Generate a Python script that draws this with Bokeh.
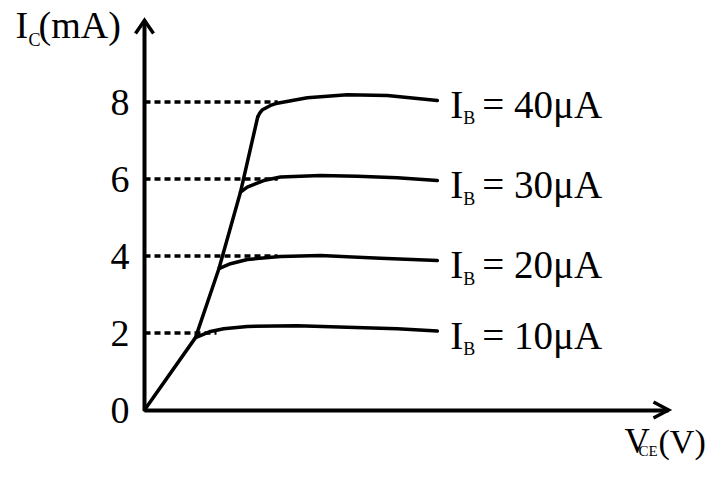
from bokeh.plotting import figure
from bokeh.models import Range1d, LinearAxis, FixedTicker
from bokeh.core.properties import value
from bokeh.embed import file_html
from bokeh.resources import INLINE

# ---------------- data ----------------
y_ticks = [0, 2, 4, 6, 8]
y_tick_labels = ["0", "2", "4", "6", "8"]

ib_labels = ["10μA", "20μA", "30μA", "40μA"]

vce_ib10 = [1.275, 1.65, 1.98, 2.57, 3.82, 5.07, 6.32, 7.32]
ic_ib10 = [1.88, 2.04, 2.11, 2.17, 2.19, 2.15, 2.11, 2.05]
vce_ib20 = [1.86, 2.15, 2.57, 3.40, 4.40, 5.90, 7.32]
ic_ib20 = [3.67, 3.80, 3.91, 3.99, 4.01, 3.94, 3.88]
vce_ib30 = [2.40, 2.57, 2.98, 3.40, 4.40, 5.32, 6.32, 7.32]
ic_ib30 = [5.66, 5.79, 5.96, 6.05, 6.09, 6.07, 6.03, 5.96]
vce_ib40 = [2.83, 2.88, 2.95, 3.15, 3.32, 4.07, 5.07, 6.07, 7.32]
ic_ib40 = [7.61, 7.71, 7.80, 7.91, 7.97, 8.11, 8.19, 8.17, 8.04]

guide_levels = [2, 4, 6, 8]
guide_ends = [1.80, 3.33, 3.33, 3.33]

x_axis_end = 13.1
y_axis_end = 10.12

# ---------------- layout ----------------
W, H = 711, 480
PXX, PXY = 40.0, 38.5          # pixels per data unit
X0PX, Y0PX = 144.0, 409.5      # origin position in pixels (from top-left)

def px2x(px):   # pixel -> data x
    return (px - X0PX) / PXX

def py2y(py):   # pixel -> data y
    return (Y0PX - py) / PXY

p = figure(width=W, height=H, output_backend="svg", toolbar_location=None,
           x_range=Range1d(-X0PX / PXX, (W - X0PX) / PXX),
           y_range=Range1d(-(H - Y0PX) / PXY, Y0PX / PXY),
           x_axis_location=None, y_axis_location=None,
           min_border=0, outline_line_color=None)
p.grid.visible = False
p.background_fill_color = "white"
p.border_fill_color = "white"

FONT = value("Liberation Serif")

# y axis with tick labels
yaxis = LinearAxis(fixed_location=0, bounds=(0, y_axis_end),
                   ticker=FixedTicker(ticks=y_ticks),
                   major_label_overrides={t: l for t, l in zip(y_ticks, y_tick_labels)})
yaxis.axis_line_width = 4
yaxis.axis_line_color = "black"
yaxis.major_tick_in = 0
yaxis.major_tick_out = 0
yaxis.minor_tick_in = 0
yaxis.minor_tick_out = 0
yaxis.major_label_standoff = 15
yaxis.major_label_text_font = "Liberation Serif"
yaxis.major_label_text_font_size = "38px"
yaxis.major_label_text_color = "black"
p.add_layout(yaxis, "left")

xaxis = LinearAxis(fixed_location=0, bounds=(0, x_axis_end),
                   ticker=FixedTicker(ticks=[]))
xaxis.axis_line_width = 4
xaxis.axis_line_color = "black"
xaxis.major_tick_in = 0
xaxis.major_tick_out = 0
xaxis.minor_tick_in = 0
xaxis.minor_tick_out = 0
xaxis.major_label_text_font_size = "0px"
p.add_layout(xaxis, "below")

# arrow heads (open V)
ax_dx, ax_dy = 9 / PXX, 13 / PXY
p.line([-ax_dx, 0, ax_dx], [y_axis_end - ax_dy, y_axis_end, y_axis_end - ax_dy],
       line_width=3.5, line_color="black", line_join="miter")
bx_dx, bx_dy = 15 / PXX, 8 / PXY
p.line([x_axis_end - bx_dx, x_axis_end, x_axis_end - bx_dx], [bx_dy, 0, -bx_dy],
       line_width=3.5, line_color="black", line_join="miter")

# dashed guides
p.segment(x0=[0] * len(guide_levels), y0=guide_levels, x1=guide_ends, y1=guide_levels,
          line_dash="6 4", line_width=3.3, line_color="black")

curves = [(vce_ib10, ic_ib10), (vce_ib20, ic_ib20), (vce_ib30, ic_ib30), (vce_ib40, ic_ib40)]

# saturation line through origin and knees
sat_x = [0] + [c[0][0] for c in curves]
sat_y = [0] + [c[1][0] for c in curves]
p.line(sat_x, sat_y, line_width=3.5, line_color="black", line_join="round", line_cap="round")

for (vx, iy) in curves:
    p.line(vx, iy, line_width=3.5, line_color="black", line_join="round", line_cap="round")

# curve labels
end_x = [c[0][-1] for c in curves]
end_y = [c[1][-1] for c in curves]
p.text(x=end_x, y=end_y, text=["I"] * 4, x_offset=13, y_offset=4,
       text_font=FONT, text_font_size=value("39px"), text_baseline="middle",
       text_color="black")
p.text(x=end_x, y=end_y, text=["B"] * 4, x_offset=26, y_offset=18,
       text_font=FONT, text_font_size=value("18px"), text_baseline="middle",
       text_color="black")
p.text(x=end_x, y=end_y, text=["= " + s for s in ib_labels], x_offset=45, y_offset=4,
       text_font=FONT, text_font_size=value("39px"), text_baseline="middle",
       text_color="black")

# y axis title I_C(mA)
p.text(x=[px2x(15)], y=[py2y(24.5)], text=["I"], text_font=FONT,
       text_font_size=value("38px"), text_baseline="middle", text_color="black")
p.text(x=[px2x(28)], y=[py2y(39)], text=["C"], text_font=FONT,
       text_font_size=value("18px"), text_baseline="middle", text_color="black")
p.text(x=[px2x(38)], y=[py2y(24.5)], text=["(mA)"], text_font=FONT,
       text_font_size=value("38px"), text_baseline="middle", text_color="black")

# x axis title V_CE(V)
p.text(x=[px2x(624)], y=[py2y(441)], text=["V"], text_font=FONT,
       text_font_size=value("35px"), text_baseline="middle", text_color="black")
p.text(x=[px2x(638)], y=[py2y(450)], text=["CE"], text_font=FONT,
       text_font_size=value("15px"), text_baseline="middle", text_color="black")
p.text(x=[px2x(658)], y=[py2y(441)], text=["(V)"], text_font=FONT,
       text_font_size=value("34px"), text_baseline="middle", text_color="black")

open("out.html", "w").write(file_html(p, INLINE))
